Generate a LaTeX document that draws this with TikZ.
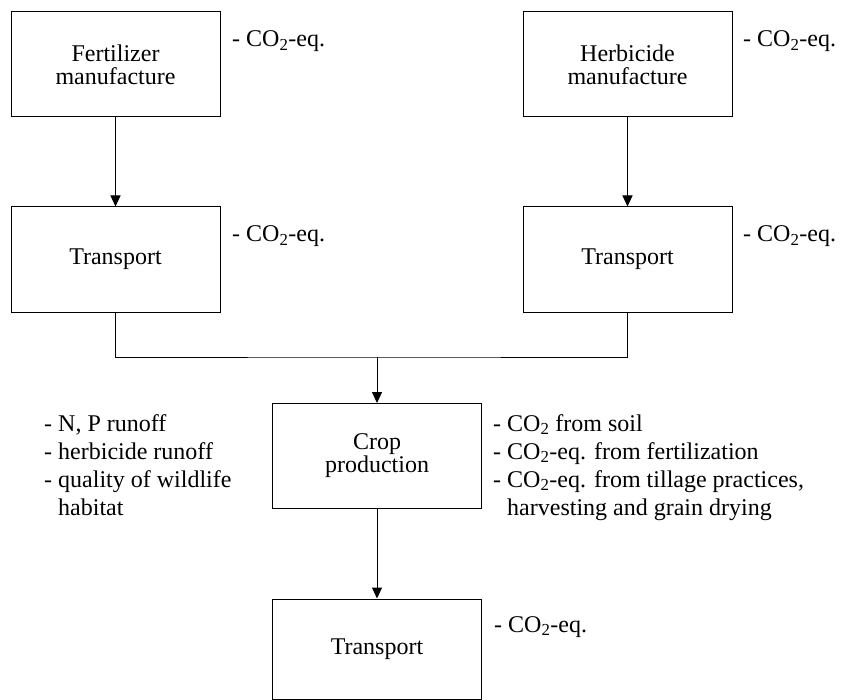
\documentclass[tikz,border=0pt]{standalone}
\usepackage{fontspec}
\setmainfont{Liberation Serif}
\usetikzlibrary{arrows.meta,positioning}

\begin{document}
\begin{tikzpicture}[x=1pt,y=-1pt,
  box/.style={draw,line width=1pt,minimum width=209pt,minimum height=105pt,inner sep=0pt,align=center,font=\fontsize{24}{23}\selectfont},
  lbl/.style={anchor=base west,inner sep=0pt,font=\fontsize{24}{23}\selectfont},
  lst/.style={anchor=north west,inner sep=0pt,align=left,font=\fontsize{24}{28}\selectfont},
  flow/.style={line width=1pt,-{Triangle[width=10pt,length=11pt]}}]
\useasboundingbox (0,0) rectangle (842,700);
% Process boxes
\node[box] (fert) at (115.5,64.5) {Fertilizer\\manufacture};
\node[box] (herb) at (627.5,64.5) {Herbicide\\manufacture};
\node[box] (transL) at (115.5,259.5) {Transport};
\node[box] (transR) at (627.5,259.5) {Transport};
\node[box] (crop) at (377,456) {Crop\\production};
\node[box,minimum height=100pt] (transB) at (377,649) {Transport};
% Emissions
\node[lbl] (eqfert) at (232,47) {- CO\textsubscript{2}-eq.};
\node[lbl] (eqherb) at (743,47) {- CO\textsubscript{2}-eq.};
\node[lbl] (eqtransL) at (232,242) {- CO\textsubscript{2}-eq.};
\node[lbl] (eqtransR) at (743,242) {- CO\textsubscript{2}-eq.};
\node[lbl] (eqtransB) at (494,632) {- CO\textsubscript{2}-eq.};
\node[lst] (water) at (44,414) {- N, P runoff\\- herbicide runoff\\- quality of wildlife\\\hphantom{- }habitat};
\node[lst] (soil) at (493,414) {- CO\textsubscript{2} from soil\\- CO\textsubscript{2}-eq. from fertilization\\- CO\textsubscript{2}-eq. from tillage practices,\\\hphantom{- }harvesting and grain drying};
% Connectors
\coordinate (join) at (377,357);
\draw[flow] (fert) -- (transL);
\draw[flow] (herb) -- (transR);
\draw[line width=1pt] (transL.south) |- (join) -| (transR.south);
\draw[flow] (join) -- (crop.north);
\draw[flow] (crop) -- (transB);
\end{tikzpicture}
\end{document}
